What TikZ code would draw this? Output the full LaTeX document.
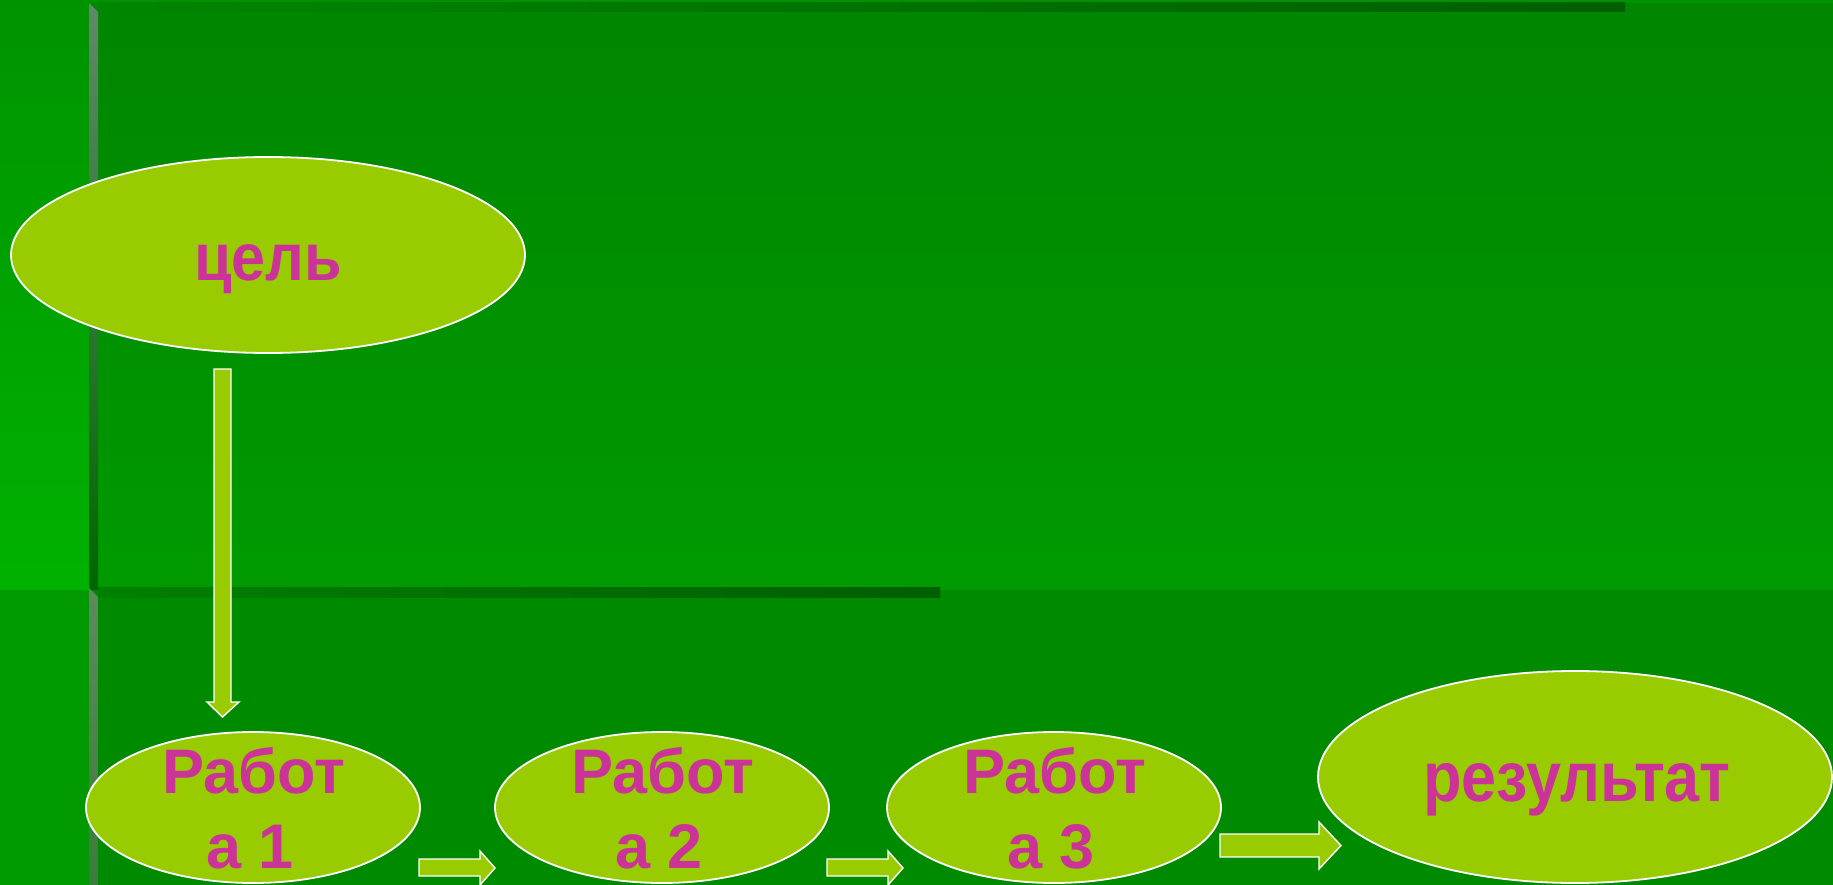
\documentclass[tikz,border=0pt]{standalone}
\usepackage{fontspec}
\setmainfont{Liberation Sans}
\definecolor{bgbase}{HTML}{008A00}
\definecolor{bgtop}{HTML}{008600}
\definecolor{bgmid}{HTML}{009A00}
\definecolor{stripA}{HTML}{009300}
\definecolor{stripB}{HTML}{00B200}
\definecolor{stripC}{HTML}{009A00}
\definecolor{topedge}{HTML}{009200}
\definecolor{darkbar}{HTML}{005F00}
\definecolor{darkbarL}{HTML}{008000}
\definecolor{grayA}{HTML}{62896A}
\definecolor{grayB}{HTML}{006600}
\definecolor{grayC}{HTML}{5E8A5E}
\definecolor{grayD}{HTML}{3C7C3C}
\definecolor{ovalfill}{HTML}{99CC00}
\definecolor{txt}{HTML}{CC3399}
\tikzset{
  oval/.style={ellipse, draw=white, line width=1.8pt, fill=ovalfill, inner sep=0pt},
  lbl/.style={text=txt, font=\fontsize{63}{75}\bfseries\selectfont, anchor=base, inner sep=0pt},
  blockarrow/.style={draw=white, line width=1.4pt, fill=ovalfill, line join=miter},
}
\usetikzlibrary{shapes.geometric}
\begin{document}
\begin{tikzpicture}[x=1pt,y=-1pt]
\useasboundingbox (0,0) rectangle (1833,885);
% background
\fill[bgbase] (0,0) rectangle (1833,885);
\shade[top color=bgtop, bottom color=bgmid] (98,3) rectangle (1833,590);
\shade[top color=stripA, bottom color=stripB] (0,0) rectangle (89,590);
\fill[topedge] (89,0) rectangle (1833,3);
\shade[left color=bgtop, right color=darkbar] (98,3) rectangle (1625,12);
\shade[top color=grayA, bottom color=grayB] (89,3) -- (98,12) -- (98,590) -- (89,590) -- cycle;
\fill[stripC] (0,590) rectangle (89,885);
\fill[bgbase] (98,590) rectangle (1833,885);
\shade[left color=darkbarL, right color=darkbar] (98,587) rectangle (940,597);
\shade[top color=grayC, bottom color=grayD] (89,588) -- (98,597) -- (98,885) -- (89,885) -- cycle;
% ovals
\node[oval, minimum width=514pt, minimum height=196pt] (goal) at (268,255) {};
\node[oval, minimum width=334pt, minimum height=151pt] (w1) at (253,807.5) {};
\node[oval, minimum width=334pt, minimum height=151pt] (w2) at (662,807.5) {};
\node[oval, minimum width=334pt, minimum height=151pt] (w3) at (1054,807.5) {};
\node[oval, minimum width=514pt, minimum height=212pt] (res) at (1575,777) {};
% labels
\node[lbl] (goalt) at (268,280) {\scalebox{0.97}[1.06]{цель}};
\node[lbl] (w1a) at (254,793) {Работ};
\node[lbl] (w1b) at (250,868) {а 1};
\node[lbl] (w2a) at (663,793) {Работ};
\node[lbl] (w2b) at (659,868) {а 2};
\node[lbl] (w3a) at (1055,793) {Работ};
\node[lbl] (w3b) at (1051,868) {а 3};
\node[lbl] (rest) at (1577,801) {\scalebox{1}[1.12]{результат}};
% block arrows
\draw[blockarrow] (214,369) -- (231,369) -- (231,702) -- (239,702) -- (222.5,717) -- (207,702) -- (214,702) -- cycle;
\draw[blockarrow] (419,859) -- (480,859) -- (480,851) -- (495,868) -- (480,885) -- (480,876) -- (419,876) -- cycle;
\draw[blockarrow] (827,859) -- (888,859) -- (888,851) -- (903,868) -- (888,885) -- (888,876) -- (827,876) -- cycle;
\draw[blockarrow] (1220,834) -- (1319,834) -- (1319,822) -- (1341,845.5) -- (1319,869) -- (1319,857) -- (1220,857) -- cycle;
\end{tikzpicture}
\end{document}
